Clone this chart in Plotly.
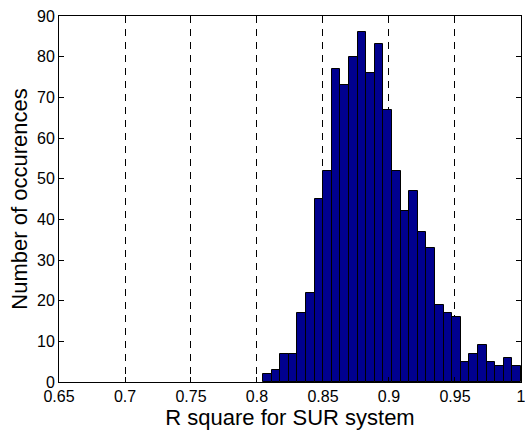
import plotly.graph_objects as go

# Histogram data (30 bins, MATLAB hist style)
bin_start = 0.8045
bin_end = 1.0
counts = [2, 3, 7, 7, 17, 22, 45, 52, 77, 73, 80, 86, 76, 83, 67,
          52, 42, 47, 37, 33, 19, 17, 16, 5, 7, 9, 5, 4, 6, 4]
x_ticks = [0.65, 0.7, 0.75, 0.8, 0.85, 0.9, 0.95, 1.0]
x_tick_labels = ["0.65", "0.7", "0.75", "0.8", "0.85", "0.9", "0.95", "1"]
y_ticks = [0, 10, 20, 30, 40, 50, 60, 70, 80, 90]

n = len(counts)
w = (bin_end - bin_start) / n
centers = [bin_start + (i + 0.5) * w for i in range(n)]

font_family = "Liberation Sans, Arial, sans-serif"

fig = go.Figure()
fig.add_trace(go.Bar(
    x=centers, y=counts, width=[w] * n,
    marker=dict(color="rgb(0,0,143)", line=dict(color="black", width=1)),
    showlegend=False,
))

fig.update_layout(
    width=525, height=430,
    margin=dict(l=59, r=4, t=16, b=48),
    paper_bgcolor="white", plot_bgcolor="white",
    font=dict(family=font_family, color="black", size=16),
    bargap=0,
)
fig.update_xaxes(
    range=[0.65, 1.00002], tickvals=x_ticks, ticktext=x_tick_labels,
    showline=True, linecolor="black", linewidth=1, mirror="allticks",
    ticks="inside", ticklen=5, tickcolor="black",
    showgrid=True, gridcolor="black", gridwidth=1, griddash="7px,6px",
    zeroline=False, ticklabeloverflow="allow", automargin=False,
    title=dict(text="R square for SUR system", font=dict(size=22), standoff=1),
    tickfont=dict(size=16),
)
fig.update_yaxes(
    range=[0, 90.0001], tickvals=y_ticks,
    showline=True, linecolor="black", linewidth=1, mirror="allticks",
    ticks="inside", ticklen=5, tickcolor="black",
    showgrid=False, zeroline=False, ticklabeloverflow="allow", automargin=False,
    title=dict(text="Number of occurences", font=dict(size=22), standoff=3),
    tickfont=dict(size=16),
)

fig.write_html("out.html")
